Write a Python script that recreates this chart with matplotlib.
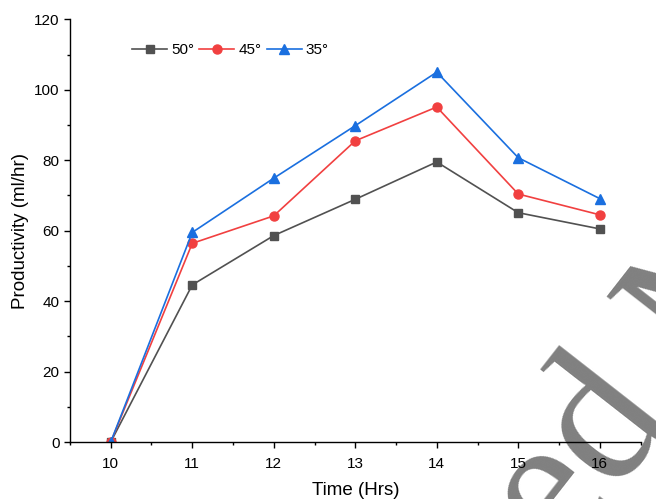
import matplotlib.pyplot as plt
from matplotlib.ticker import MultipleLocator

# Data
hours = [10, 11, 12, 13, 14, 15, 16]
prod_50 = [0, 44.6, 58.6, 68.9, 79.5, 65.1, 60.5]
prod_45 = [0, 56.4, 64.2, 85.5, 95.1, 70.4, 64.5]
prod_35 = [0, 59.5, 74.9, 89.8, 105.0, 80.7, 69.1]
series_labels = ['50°', '45°', '35°']

plt.rcParams['font.family'] = ['Liberation Sans', 'DejaVu Sans']

fig = plt.figure(figsize=(6.56, 4.99), dpi=100)
ax = fig.add_axes([0.1067, 0.1142, 0.8697, 0.8471])
ax.set_facecolor('none')

ax.plot(hours, prod_50, '-s', color='#515151', lw=1.2, ms=6, label=series_labels[0])
ax.plot(hours, prod_45, '-o', color='#F14040', lw=1.2, ms=6.5, label=series_labels[1])
ax.plot(hours, prod_35, '-^', color='#1A6FDF', lw=1.2, ms=7, label=series_labels[2])

ax.set_xlim(9.5, 16.5)
ax.set_ylim(0, 120)
ax.xaxis.set_major_locator(MultipleLocator(1))
ax.xaxis.set_minor_locator(MultipleLocator(0.5))
ax.yaxis.set_major_locator(MultipleLocator(20))
ax.yaxis.set_minor_locator(MultipleLocator(10))

for side in ['top', 'right']:
    ax.spines[side].set_visible(False)
for side in ['left', 'bottom']:
    ax.spines[side].set_linewidth(1.0)
ax.tick_params(which='major', direction='out', length=4, width=1, labelsize=11)
ax.tick_params(axis='x', which='major', pad=6.5)
ax.tick_params(which='minor', direction='out', length=2.5, width=1)

ax.set_xlabel('Time (Hrs)', fontsize=13.5, labelpad=8)
ax.set_ylabel('Productivity (ml/hr)', fontsize=13.5, labelpad=4)

ax.legend(loc='center left', bbox_to_anchor=(0.1086, 0.9265), ncol=3, frameon=False,
          fontsize=11, handlelength=2.3, handletextpad=0.25, columnspacing=0.35,
          borderpad=0, borderaxespad=0)

# watermark seen behind the chart
fig.text(0.3399, -0.996, 'Accepted Manuscript', fontsize=140, family='Liberation Serif',
         color='#808080', rotation=52, rotation_mode='anchor', ha='left', va='baseline',
         zorder=-1)

fig.savefig('out.png', dpi=100)
